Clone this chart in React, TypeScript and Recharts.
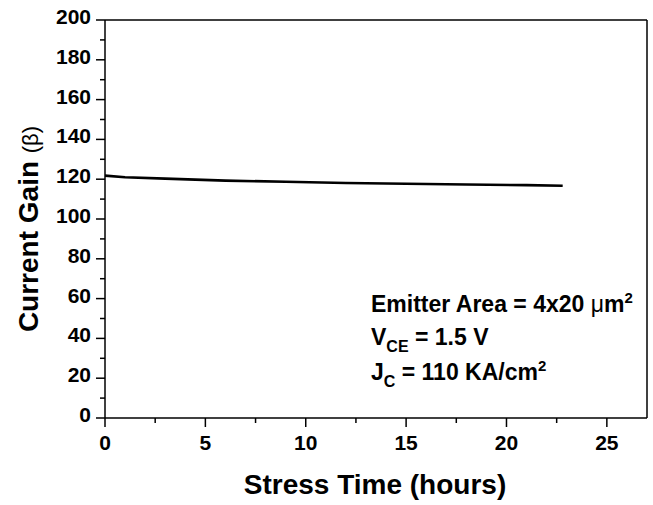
import React from 'react';
import { ComposedChart, Line, XAxis, YAxis, ReferenceLine, Customized } from 'recharts';

const stressHours = [0, 1, 3, 6, 9, 12, 15, 18, 21, 22.8];
const currentGain = [121.8, 121.0, 120.3, 119.3, 118.7, 118.1, 117.7, 117.3, 117.0, 116.7];
const xTicks = [0, 2.5, 5, 7.5, 10, 12.5, 15, 17.5, 20, 22.5, 25];
const yTicks = [0, 10, 20, 30, 40, 50, 60, 70, 80, 90, 100, 110, 120, 130, 140, 150, 160, 170, 180, 190, 200];

const FONT = '"Liberation Sans", Arial, Helvetica, sans-serif';

const data = stressHours.map((t, i) => ({ t, beta: currentGain[i] }));

const YTick = (props: any) => {
  const { x, y, payload } = props;
  const major = payload.value % 20 === 0;
  return (
    <g>
      <line x1={x - (major ? 9 : 5)} x2={x} y1={y} y2={y} stroke="#000" strokeWidth={1.5} />
      {major && (
        <text x={x - 14} y={y + 4} textAnchor="end" fontFamily={FONT} fontWeight="bold" fontSize={21} fill="#000">
          {payload.value}
        </text>
      )}
    </g>
  );
};

const XTick = (props: any) => {
  const { x, y, payload } = props;
  const major = payload.value % 5 === 0;
  return (
    <g>
      <line x1={x} x2={x} y1={y} y2={y + (major ? 9 : 5)} stroke="#000" strokeWidth={1.5} />
      {major && (
        <text x={x} y={y + 32} textAnchor="middle" fontFamily={FONT} fontWeight="bold" fontSize={21} fill="#000">
          {payload.value}
        </text>
      )}
    </g>
  );
};

const Texts = () => (
  <g fontFamily={FONT} fill="#000">
    <text x={375} y={494} textAnchor="middle" fontWeight="bold" fontSize={28}>
      Stress Time (hours)
    </text>
    <text transform="translate(38,229) rotate(-90)" textAnchor="middle" fontWeight="bold" fontSize={28}>
      Current Gain <tspan fontWeight="normal" fontSize={22}>(β)</tspan>
    </text>
    <g fontWeight="bold" fontSize={23}>
      <text x={371} y={312}>
        Emitter Area = 4x20 <tspan fontWeight="normal">μ</tspan>m
        <tspan fontSize={15} dy={-9}>2</tspan>
      </text>
      <text x={371} y={345}>
        V<tspan fontSize={16} dy={7}>CE</tspan>
        <tspan dy={-7}> = 1.5 V</tspan>
      </text>
      <text x={371} y={380}>
        J<tspan fontSize={16} dy={7}>C</tspan>
        <tspan dy={-7}> = 110 KA/cm</tspan>
        <tspan fontSize={15} dy={-9}>2</tspan>
      </text>
    </g>
  </g>
);

export default function App() {
  return (
    <div style={{ position: 'absolute', left: 0, top: 0, background: '#fff' }}>
      <ComposedChart width={653} height={505} data={data} margin={{ top: 20, right: 6, bottom: 0, left: 0 }}>
        <XAxis
          dataKey="t"
          type="number"
          domain={[0, 27]}
          ticks={xTicks}
          interval={0}
          height={87}
          tickSize={0}
          tickMargin={0}
          tickLine={false}
          axisLine={{ stroke: '#000', strokeWidth: 1.5 }}
          tick={<XTick />}
        />
        <YAxis
          type="number"
          domain={[0, 200]}
          ticks={yTicks}
          interval={0}
          width={105}
          tickSize={0}
          tickMargin={0}
          tickLine={false}
          axisLine={{ stroke: '#000', strokeWidth: 1.5 }}
          tick={<YTick />}
        />
        <ReferenceLine y={200} stroke="#000" strokeWidth={1.5} />
        <ReferenceLine x={27} stroke="#000" strokeWidth={1.5} />
        <Line
          type="linear"
          dataKey="beta"
          stroke="#000"
          strokeWidth={2.6}
          dot={false}
          isAnimationActive={false}
        />
        <Customized component={Texts} />
      </ComposedChart>
    </div>
  );
}
